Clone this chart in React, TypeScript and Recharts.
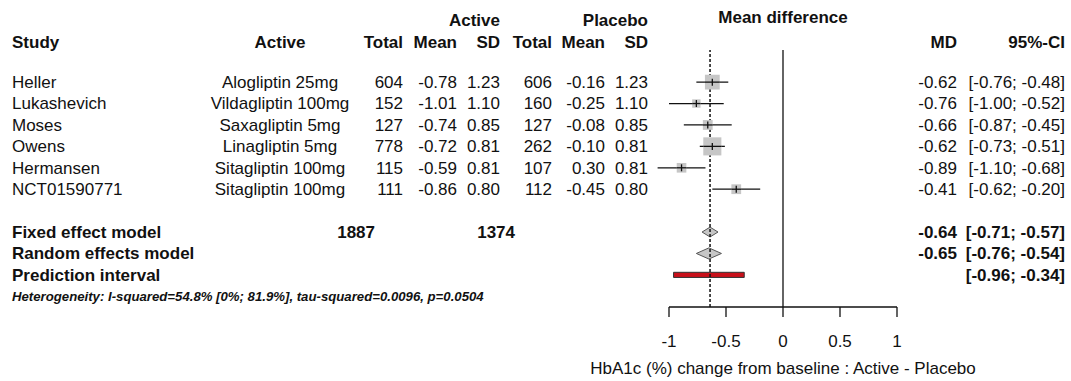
import React from 'react';
import { ComposedChart, Scatter, XAxis, YAxis, ReferenceLine, ReferenceArea } from 'recharts';

document.body.style.margin = '0';

const FONT = '"Liberation Sans", Arial, Helvetica, sans-serif';
const INK = '#111';

// study rows
const studies = ['Heller', 'Lukashevich', 'Moses', 'Owens', 'Hermansen', 'NCT01590771'];
const activeDrug = ['Alogliptin 25mg', 'Vildagliptin 100mg', 'Saxagliptin 5mg', 'Linagliptin 5mg', 'Sitagliptin 100mg', 'Sitagliptin 100mg'];
const activeTotal = [604, 152, 127, 778, 115, 111];
const activeMean = [-0.78, -1.01, -0.74, -0.72, -0.59, -0.86];
const activeSD = [1.23, 1.1, 0.85, 0.81, 0.81, 0.8];
const placeboTotal = [606, 160, 127, 262, 107, 112];
const placeboMean = [-0.16, -0.25, -0.08, -0.1, 0.3, -0.45];
const placeboSD = [1.23, 1.1, 0.85, 0.81, 0.81, 0.8];
const md = [-0.62, -0.76, -0.66, -0.62, -0.89, -0.41];
const ciLow = [-0.76, -1.0, -0.87, -0.73, -1.1, -0.62];
const ciHigh = [-0.48, -0.52, -0.45, -0.51, -0.68, -0.2];
const weight = [24.3, 7.8, 10.7, 36.3, 10.3, 10.6]; // % (fixed effect)

// pooled rows
const summaryLabels = ['Fixed effect model', 'Random effects model', 'Prediction interval'];
const summaryActiveTotal = [1887, null, null];
const summaryPlaceboTotal = [1374, null, null];
const summaryMD = [-0.64, -0.65, null];
const summaryLow = [-0.71, -0.76, -0.96];
const summaryHigh = [-0.57, -0.54, -0.34];

const heterogeneity = 'Heterogeneity: I-squared=54.8% [0%; 81.9%], tau-squared=0.0096, p=0.0504';
const xTicks = [-1, -0.5, 0, 0.5, 1];
const xLabel = 'HbA1c (%) change from baseline : Active - Placebo';

const SUMMARY_ROW = 7;
const HET_ROW = 10;

const f2 = (v: number) => v.toFixed(2);
const ci = (lo: number, hi: number) => `[${f2(lo)}; ${f2(hi)}]`;

const studyData = studies.map((name, i) => ({ name, x: md[i], row: i, w: weight[i] }));

const tableRows = [
  ...studies.map((_, i) => ({ x: 0, row: i, kind: 'study', i })),
  ...summaryLabels.map((_, j) => ({ x: 0, row: SUMMARY_ROW + j, kind: 'summary', i: j })),
  { x: 0, row: HET_ROW, kind: 'het', i: 0 },
];

const T = (p: any) => (
  <text
    x={p.x}
    y={p.y}
    dy="0.35em"
    textAnchor={p.anchor || 'end'}
    fontFamily={FONT}
    fontSize={p.size || 17}
    fontWeight={p.bold ? 'bold' : 'normal'}
    fontStyle={p.italic ? 'italic' : 'normal'}
    fill={INK}
  >
    {p.children}
  </text>
);

function TableRow(props: any) {
  const { cy, payload } = props;
  const { kind, i } = payload;
  if (kind === 'study') {
    return (
      <g>
        {i === 0 && (
          <g>
            <T x={500} y={cy - 62} bold>Active</T>
            <T x={648} y={cy - 62} bold>Placebo</T>
            <T x={783} y={cy - 65} bold anchor="middle">Mean difference</T>
            <T x={12} y={cy - 40} bold anchor="start">Study</T>
            <T x={280} y={cy - 40} bold anchor="middle">Active</T>
            <T x={403} y={cy - 40} bold>Total</T>
            <T x={457} y={cy - 40} bold>Mean</T>
            <T x={500} y={cy - 40} bold>SD</T>
            <T x={552} y={cy - 40} bold>Total</T>
            <T x={605} y={cy - 40} bold>Mean</T>
            <T x={648} y={cy - 40} bold>SD</T>
            <T x={957} y={cy - 40} bold>MD</T>
            <T x={1065} y={cy - 40} bold>95%-CI</T>
          </g>
        )}
        <T x={12} y={cy} anchor="start">{studies[i]}</T>
        <T x={280} y={cy} anchor="middle">{activeDrug[i]}</T>
        <T x={403} y={cy}>{activeTotal[i]}</T>
        <T x={457} y={cy}>{f2(activeMean[i])}</T>
        <T x={500} y={cy}>{f2(activeSD[i])}</T>
        <T x={552} y={cy}>{placeboTotal[i]}</T>
        <T x={605} y={cy}>{f2(placeboMean[i])}</T>
        <T x={648} y={cy}>{f2(placeboSD[i])}</T>
        <T x={957} y={cy}>{f2(md[i])}</T>
        <T x={1065} y={cy}>{ci(ciLow[i], ciHigh[i])}</T>
      </g>
    );
  }
  if (kind === 'summary') {
    const at = summaryActiveTotal[i];
    const pt = summaryPlaceboTotal[i];
    const m = summaryMD[i];
    return (
      <g>
        <T x={12} y={cy} bold anchor="start">{summaryLabels[i]}</T>
        {at != null && <T x={375} y={cy} bold>{at}</T>}
        {pt != null && <T x={515} y={cy} bold>{pt}</T>}
        {m != null && <T x={957} y={cy} bold>{f2(m)}</T>}
        <T x={1065} y={cy} bold>{ci(summaryLow[i], summaryHigh[i])}</T>
      </g>
    );
  }
  return (
    <T x={12} y={cy} bold italic size={13.2} anchor="start">{heterogeneity}</T>
  );
}

function StudySquare(props: any) {
  const { cx, cy, payload } = props;
  const s = 3 * Math.sqrt(payload.w);
  return (
    <g>
      <rect x={cx - s / 2} y={cy - s / 2} width={s} height={s} fill="#c6c6c6" />
      <line x1={cx - s / 2} x2={cx + s / 2} y1={cy} y2={cy} stroke={INK} strokeWidth={1.3} />
      <line x1={cx} x2={cx} y1={cy - 3.5} y2={cy + 3.5} stroke={INK} strokeWidth={1.3} />
    </g>
  );
}

const diamond = (frac: number) => (p: any) => {
  const { x, y, width, height } = p;
  const mx = x + width * frac;
  const my = y + height / 2;
  return (
    <polygon
      points={`${x},${my} ${mx},${y} ${x + width},${my} ${mx},${y + height}`}
      fill="#c6c6c6"
      stroke="#555"
      strokeWidth={1}
    />
  );
};

const diamondHalf = [0.23, 0.26];

export default function App() {
  return (
    <div style={{ width: 1071, height: 381, background: '#fff' }}>
      <ComposedChart width={1071} height={381} margin={{ top: 50, right: 174, bottom: 0, left: 669 }}>
        <XAxis
          type="number"
          dataKey="x"
          domain={[-1, 1]}
          ticks={xTicks}
          height={74}
          tickSize={10}
          tickMargin={18}
          axisLine={{ stroke: INK, strokeWidth: 1.3 }}
          tickLine={{ stroke: INK, strokeWidth: 1.3 }}
          tick={{ fontSize: 17, fill: INK, fontFamily: FONT }}
          label={{ value: xLabel, position: 'insideBottom', offset: 7, fontSize: 17, fill: INK, fontFamily: FONT }}
        />
        <YAxis type="number" dataKey="row" domain={[-1.5, 10.5]} reversed hide />
        <ReferenceLine x={0} stroke={INK} strokeWidth={1.3} />
        {studies.map((s, i) => (
          <ReferenceLine
            key={s}
            segment={[{ x: ciLow[i], y: i }, { x: ciHigh[i], y: i }]}
            stroke={INK}
            strokeWidth={1.3}
            ifOverflow="visible"
          />
        ))}
        {[0, 1].map((j) => (
          <ReferenceArea
            key={j}
            x1={summaryLow[j]}
            x2={summaryHigh[j]}
            y1={SUMMARY_ROW + j - diamondHalf[j]}
            y2={SUMMARY_ROW + j + diamondHalf[j]}
            ifOverflow="visible"
            shape={diamond(((summaryMD[j] as number) - summaryLow[j]) / (summaryHigh[j] - summaryLow[j]))}
          />
        ))}
        <ReferenceArea
          x1={summaryLow[2]}
          x2={summaryHigh[2]}
          y1={SUMMARY_ROW + 2 - 0.12}
          y2={SUMMARY_ROW + 2 + 0.12}
          ifOverflow="visible"
          fill="#c8101a"
          fillOpacity={1}
          stroke="#333"
          strokeWidth={1}
        />
        <ReferenceLine x={summaryMD[0] as number} stroke={INK} strokeWidth={1.5} strokeDasharray="3 2" />
        <Scatter data={studyData} shape={StudySquare} isAnimationActive={false} />
        <Scatter data={tableRows} shape={TableRow} isAnimationActive={false} />
      </ComposedChart>
    </div>
  );
}
